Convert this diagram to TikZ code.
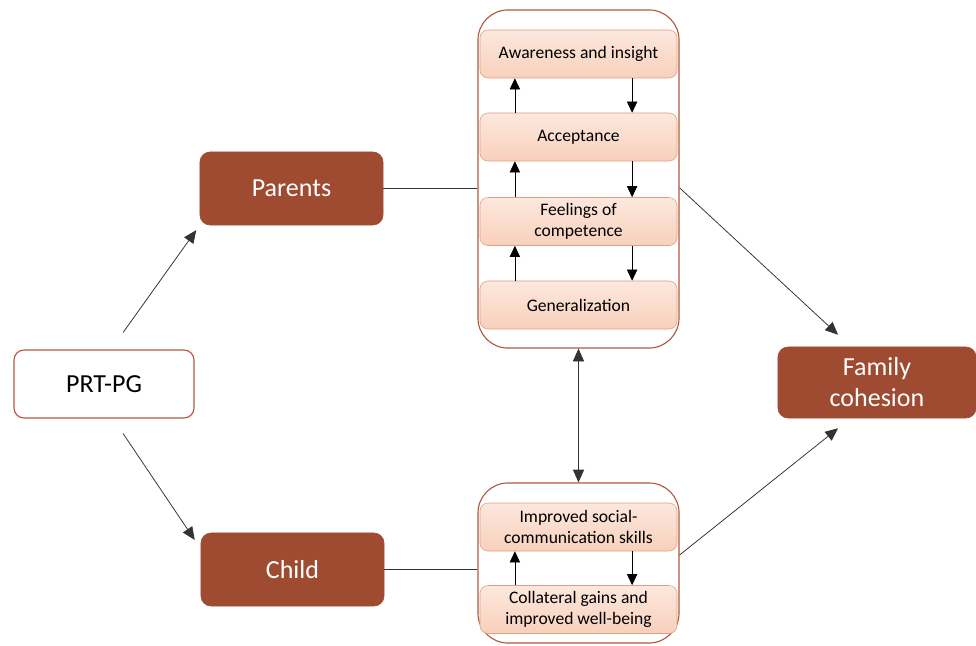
\documentclass[tikz,border=0pt]{standalone}
\usepackage{fontspec}
\setmainfont{Carlito}
\usetikzlibrary{arrows.meta, positioning, calc}
\definecolor{rust}{RGB}{158,75,50}
\definecolor{rustline}{RGB}{178,88,60}
\definecolor{peachtop}{RGB}{252,232,221}
\definecolor{peachbot}{RGB}{248,208,188}
\definecolor{peachline}{RGB}{226,158,128}
\tikzset{
    darkbox/.style={draw=rust, fill=rust, rounded corners=0.25cm, text=white,
        font=\fontsize{18.5}{22}\selectfont, align=center, inner sep=0pt},
    lightbox/.style={draw=rustline, line width=0.8pt, fill=white, rounded corners=0.25cm,
        font=\fontsize{18.5}{22}\selectfont, inner sep=0pt},
    frame/.style={draw=rustline, line width=0.8pt, fill=white, rounded corners=0.75cm,
        minimum width=5.025cm, inner sep=0pt},
    stage/.style={draw=peachline, top color=peachtop, bottom color=peachbot,
        rounded corners=0.2cm, minimum width=4.925cm, minimum height=1.2cm,
        font=\fontsize{12.5}{15}\selectfont, align=center, inner sep=0pt},
    link/.style={draw=black!80, line width=0.55pt},
    flow/.style={link, -{Triangle[length=0.32cm, width=0.28cm]}},
    step arrow/.style={draw=black, line width=0.55pt, -{Triangle[length=0.28cm, width=0.26cm]}}
}

\begin{document}
\begin{tikzpicture}[x=0.025cm, y=-0.025cm]
    \useasboundingbox (0,0) rectangle (976,646);

    % left and right boxes
    \node[lightbox, minimum width=4.5cm, minimum height=1.7cm] (prt) at (104,384) {PRT-PG};
    \node[darkbox, minimum width=4.575cm, minimum height=1.825cm] (parents) at (291.5,188.5) {Parents};
    \node[darkbox, minimum width=4.575cm, minimum height=1.825cm] (child) at (292.5,569.5) {Child};
    \node[darkbox, minimum width=4.95cm, minimum height=1.775cm] (family) at (877,382.5) {Family\\cohesion};

    % containers
    \node[frame, minimum height=8.45cm] (parbox) at (578.5,179) {};
    \node[frame, minimum height=4cm] (chibox) at (578.5,563) {};

    % parent stages
    \node[stage] (aware) at (578.5,54) {Awareness and insight};
    \node[stage] (accept) at (578.5,137) {Acceptance};
    \node[stage] (compet) at (578.5,221.5) {Feelings of\\competence};
    \node[stage] (general) at (578.5,305) {Generalization};

    % child stages
    \node[stage] (social) at (578.5,527) {Improved social-\\communication skills};
    \node[stage] (gains) at (578.5,609.5) {Collateral gains and\\improved well-being};

    % cycles inside the containers
    \foreach \lo/\hi in {accept/aware, compet/accept, general/compet, gains/social} {
        \draw[step arrow] ([xshift=-1.59cm]\lo.north) -- ([xshift=-1.59cm]\hi.south);
        \draw[step arrow] ([xshift=1.34cm]\hi.south) -- ([xshift=1.34cm]\lo.north);
    }

    % connectors
    \draw[flow, shorten <=0.52cm, shorten >=0.15cm] ([xshift=0.175cm]prt.north) -- (parents.south west);
    \draw[flow, shorten <=0.45cm] ([xshift=0.225cm]prt.south) -- ([xshift=-0.15cm, yshift=-0.18cm]child.north west);
    \draw[link] (parents.east) -- (parents.east -| parbox.west);
    \draw[link] (child.east) -- (child.east -| chibox.west);
    \draw[flow, shorten >=0.44cm] ([yshift=-0.22cm]parbox.east) -- ([xshift=-0.65cm]family.north);
    \draw[flow, shorten >=0.4cm] ([yshift=0.2cm]chibox.east) -- ([xshift=-0.66cm]family.south);
    \draw[link, {Triangle[length=0.32cm, width=0.28cm]}-{Triangle[length=0.32cm, width=0.28cm]}]
        (parbox.south) -- (chibox.north);
\end{tikzpicture}
\end{document}
